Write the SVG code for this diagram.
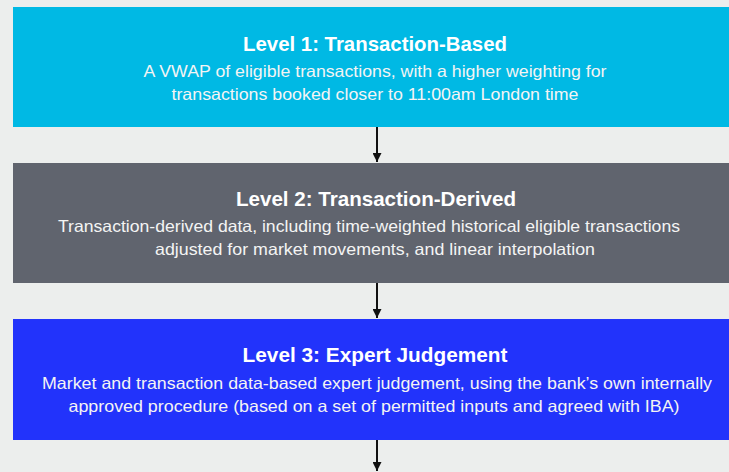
<svg xmlns="http://www.w3.org/2000/svg" width="729" height="472" viewBox="0 0 729 472">
  <defs>
    <marker id="arr" viewBox="0 0 10 10" refX="10" refY="5" markerWidth="4.5" markerHeight="4.5" orient="auto" markerUnits="strokeWidth">
      <path d="M0,0 L10,5 L0,10 Z" fill="#111"/>
    </marker>
    <style>
      .t{font-family:"Liberation Sans",Arial,sans-serif;font-size:21px;font-weight:bold;fill:#fff;text-anchor:middle}
      .s{font-family:"Liberation Sans",Arial,sans-serif;font-size:16.5px;fill:#f4f4f4;text-anchor:middle}
      .c{stroke:#111;stroke-width:2;fill:none}
    </style>
  </defs>
  <rect width="729" height="472" fill="#eceeed"/>
  <g id="connectors">
    <line class="c" x1="377" y1="127" x2="377" y2="162" marker-end="url(#arr)"/>
    <line class="c" x1="377" y1="283" x2="377" y2="318" marker-end="url(#arr)"/>
    <line class="c" x1="377" y1="440" x2="377" y2="471" marker-end="url(#arr)"/>
  </g>
  <g id="level1">
    <rect x="13" y="7" width="720" height="120" fill="#00b9e4"/>
    <text class="t" x="375" y="51" textLength="264" lengthAdjust="spacingAndGlyphs">Level 1: Transaction-Based</text>
    <text class="s" x="375" y="77" textLength="463" lengthAdjust="spacingAndGlyphs">A VWAP of eligible transactions, with a higher weighting for</text>
    <text class="s" x="375" y="100" textLength="407" lengthAdjust="spacingAndGlyphs">transactions booked closer to 11:00am London time</text>
  </g>
  <g id="level2">
    <rect x="13" y="163" width="720" height="120" fill="#60646e"/>
    <text class="t" x="376" y="206" textLength="280" lengthAdjust="spacingAndGlyphs">Level 2: Transaction-Derived</text>
    <text class="s" x="369" y="232" textLength="622" lengthAdjust="spacingAndGlyphs">Transaction-derived data, including time-weighted historical eligible transactions</text>
    <text class="s" x="375" y="255" textLength="440" lengthAdjust="spacingAndGlyphs">adjusted for market movements, and linear interpolation</text>
  </g>
  <g id="level3">
    <rect x="13" y="319" width="720" height="121" fill="#2233fb"/>
    <text class="t" x="375" y="362" textLength="265" lengthAdjust="spacingAndGlyphs">Level 3: Expert Judgement</text>
    <text class="s" x="377" y="389" textLength="670" lengthAdjust="spacingAndGlyphs">Market and transaction data-based expert judgement, using the bank’s own internally</text>
    <text class="s" x="374" y="412" textLength="611" lengthAdjust="spacingAndGlyphs">approved procedure (based on a set of permitted inputs and agreed with IBA)</text>
  </g>
</svg>
